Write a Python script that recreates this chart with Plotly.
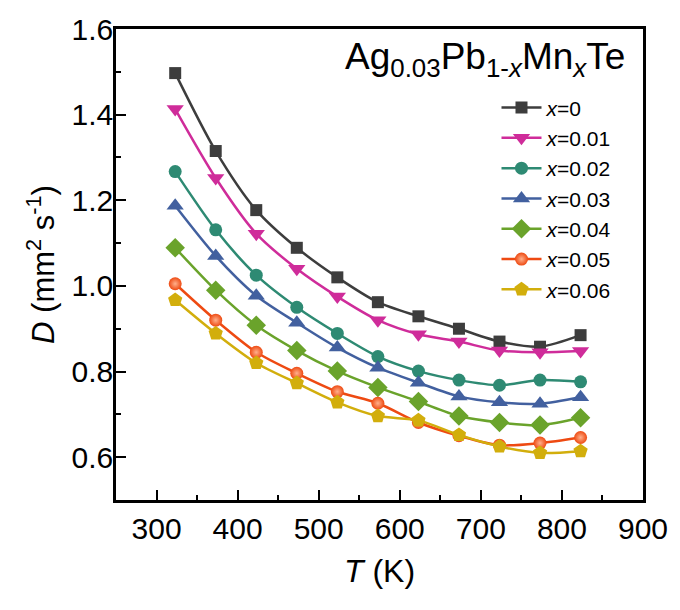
import plotly.graph_objects as go

# Temperature points (K)
temperature = [323, 373, 423, 473, 523, 573, 623, 673, 723, 773, 823]

# Thermal diffusivity D (mm^2 s^-1) for Ag0.03Pb1-xMnxTe
d_x000 = [1.497, 1.315, 1.177, 1.089, 1.020, 0.962, 0.929, 0.900, 0.870, 0.858, 0.885]
d_x001 = [1.413, 1.252, 1.122, 1.040, 0.975, 0.920, 0.887, 0.870, 0.849, 0.845, 0.848]
d_x002 = [1.267, 1.131, 1.025, 0.950, 0.889, 0.835, 0.801, 0.780, 0.768, 0.780, 0.776]
d_x003 = [1.187, 1.070, 0.977, 0.914, 0.856, 0.809, 0.774, 0.742, 0.728, 0.725, 0.740]
d_x004 = [1.089, 0.990, 0.908, 0.849, 0.801, 0.763, 0.730, 0.696, 0.681, 0.675, 0.692]
d_x005 = [1.005, 0.920, 0.845, 0.796, 0.753, 0.726, 0.681, 0.650, 0.628, 0.633, 0.646]
d_x006 = [0.967, 0.889, 0.820, 0.773, 0.728, 0.696, 0.686, 0.652, 0.625, 0.610, 0.614]

series_names = ["x=0", "x=0.01", "x=0.02", "x=0.03", "x=0.04", "x=0.05", "x=0.06"]
series_values = [d_x000, d_x001, d_x002, d_x003, d_x004, d_x005, d_x006]

colors = ["#3d3d3d", "#cf2c9a", "#2e8a73", "#42609f", "#6aa32b", "#ee4a12", "#d2ae0c"]
symbols = ["square", "triangle-down", "circle", "triangle-up", "diamond", "circle", "pentagon"]
sizes = [12, 15, 13, 15, 15, 13, 15]

FONT = "Liberation Sans, Arial, sans-serif"

fig = go.Figure()
for name, vals, col, sym, sz in zip(series_names, series_values, colors, symbols, sizes):
    marker = dict(symbol=sym, size=sz, color=col, line=dict(width=0))
    if name == "x=0.05":
        marker["gradient"] = dict(type="radial", color="#ffb08c")
    fig.add_trace(go.Scatter(
        x=temperature, y=vals, mode="lines+markers",
        name="<i>x</i>=" + name.split("=")[1],
        line=dict(color=col, width=2.5, shape="spline", smoothing=0.8),
        marker=marker,
    ))

axis_common = dict(
    showline=True, linecolor="black", linewidth=2.5, mirror=True,
    ticks="inside", ticklen=10, tickwidth=2, tickcolor="black",
    showgrid=False, zeroline=False,
    tickfont=dict(family=FONT, size=30, color="black"),
)

fig.update_xaxes(
    range=[250, 900], tick0=0, dtick=100,
    minor=dict(dtick=50, ticks="inside", ticklen=5, tickwidth=2, tickcolor="black"),
    title=dict(text="<i>T</i> (K)", font=dict(family=FONT, size=32, color="black"), standoff=16),
    **axis_common,
)
fig.update_yaxes(
    range=[0.5, 1.6], tick0=0, dtick=0.2, tickformat=".1f",
    ticklabelstandoff=-6,
    minor=dict(dtick=0.1, ticks="inside", ticklen=5, tickwidth=2, tickcolor="black"),
    title=dict(text="<i>D</i> (mm<sup>2</sup> s<sup>-1</sup>)", font=dict(family=FONT, size=31, color="black"), standoff=8),
    **axis_common,
)

fig.add_annotation(
    xref="paper", yref="paper", x=0.97, y=0.99, xanchor="right", yanchor="top",
    text="Ag<sub>0.03</sub>Pb<sub>1-<i>x</i></sub>Mn<sub><i>x</i></sub>Te",
    showarrow=False, font=dict(family=FONT, size=37, color="black"),
)

fig.update_layout(
    width=680, height=610,
    margin=dict(l=116, r=31, t=20, b=110),
    paper_bgcolor="white", plot_bgcolor="white",
    showlegend=True,
    legend=dict(
        x=0.722, y=0.876, xanchor="left", yanchor="top",
        bgcolor="rgba(0,0,0,0)", borderwidth=0,
        font=dict(family=FONT, size=21, color="black"),
        tracegroupgap=0, itemwidth=40,
    ),
)

fig.write_html("out.html")
